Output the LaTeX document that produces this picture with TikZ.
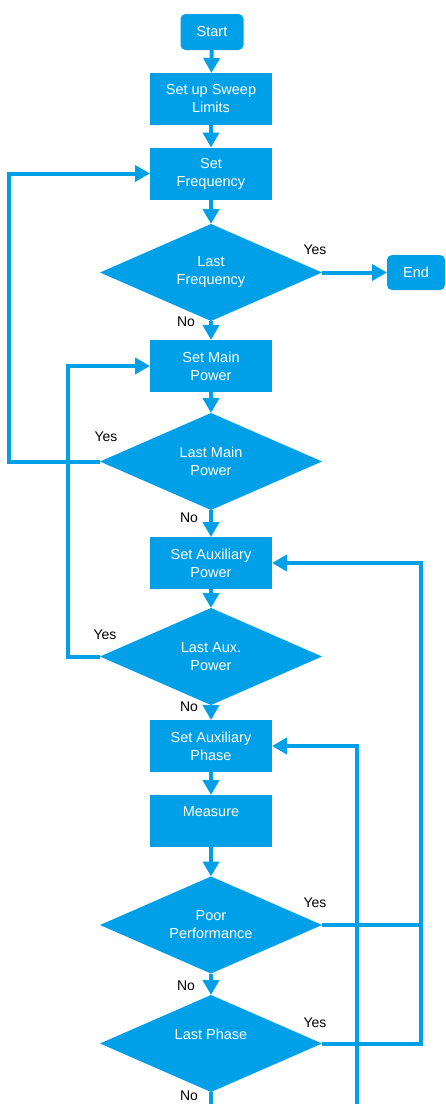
\documentclass[tikz,border=0pt]{standalone}
\usepackage{fontspec}
\setmainfont{Liberation Sans}
\usetikzlibrary{positioning,shapes.geometric,arrows.meta}
\definecolor{flowblue}{RGB}{0,160,233}

\begin{document}
\begin{tikzpicture}[x=1pt,y=-1pt,
box/.style={fill=flowblue,text=white,minimum width=122pt,minimum height=52pt,
    inner sep=0pt,outer sep=0pt,align=center,font=\fontsize{14.5}{18}\selectfont},
term/.style={box,rounded corners=5pt,minimum width=63pt,minimum height=36pt},
test/.style={diamond,aspect=2.29,fill=flowblue,text=white,minimum width=222pt,minimum height=97pt,
    inner sep=0pt,outer sep=0pt,align=center,font=\fontsize{14.5}{18}\selectfont},
lab/.style={font=\fontsize{14}{16}\selectfont},
link/.style={draw=flowblue,line width=4pt},
flow/.style={link,-{Triangle[length=15pt,width=16pt]}}]
\useasboundingbox (0,0) rectangle (445,1104);
% main column
\node (start) [term] at (212,32) {Start};
\node (sweep) [box] at (211,99) {Set up Sweep\\Limits};
\node (freq) [box] at (211,173.5) {Set\\Frequency};
\node (lfreq) [test] at (211,272.5) {Last\\Frequency};
\node (finish) [term,minimum width=58pt,minimum height=35pt] at (416,272.5) {End};
\node (mainp) [box] at (211,366) {Set Main\\Power};
\node (lmain) [test] at (211,461.5) {Last Main\\Power};
\node (auxp) [box] at (211,563) {Set Auxiliary\\Power};
\node (laux) [test] at (211,656.5) {Last Aux.\\Power};
\node (phase) [box] at (211,746) {Set Auxiliary\\Phase};
\node (measure) [box] at (211,821) {Measure\\\mbox{}};
\node (poor) [test] at (211,925) {Poor\\Performance};
\node (lphase) [test] at (211,1043.5) {Last Phase\\\mbox{}};
\coordinate (loopout) at (211,1104);
\coordinate (loopin) at (357,1104);

% labels
\node (yes1) [lab] at (315,250) {Yes};
\node (no1) [lab] at (186,322) {No};
\node (yes2) [lab] at (106,437) {Yes};
\node (no2) [lab] at (189,518) {No};
\node (yes3) [lab] at (105,635) {Yes};
\node (no3) [lab] at (189,707) {No};
\node (yes4) [lab] at (315,903) {Yes};
\node (no4) [lab] at (186,986) {No};
\node (yes5) [lab] at (315,1023) {Yes};
\node (no5) [lab] at (189,1096) {No};

% connectors
\draw[flow] (start) -- (sweep);
\draw[flow] (sweep) -- (freq);
\draw[flow] (freq) -- (lfreq);
\draw[flow] (lfreq) -- (finish);
\draw[flow] (lfreq) -- (mainp);
\draw[flow] (mainp) -- (lmain);
\draw[flow] (lmain) -- (auxp);
\draw[flow] (auxp) -- (laux);
\draw[flow] (laux) -- (phase);
\draw[flow] (phase) -- (measure);
\draw[flow] (measure) -- (poor);
\draw[flow] (poor) -- (lphase);
\draw[link] (lphase) -- (loopout);
\draw[flow] (lmain.west) -- ++(-91,0) |- (freq.west);
\draw[flow] (laux.west) -- ++(-32,0) |- (mainp.west);
\draw[link] (poor.east) -- ++(99,0);
\draw[flow] (lphase.east) -- ++(99,0) |- (auxp.east);
\draw[flow] (loopin) |- (phase.east);
\end{tikzpicture}
\end{document}
